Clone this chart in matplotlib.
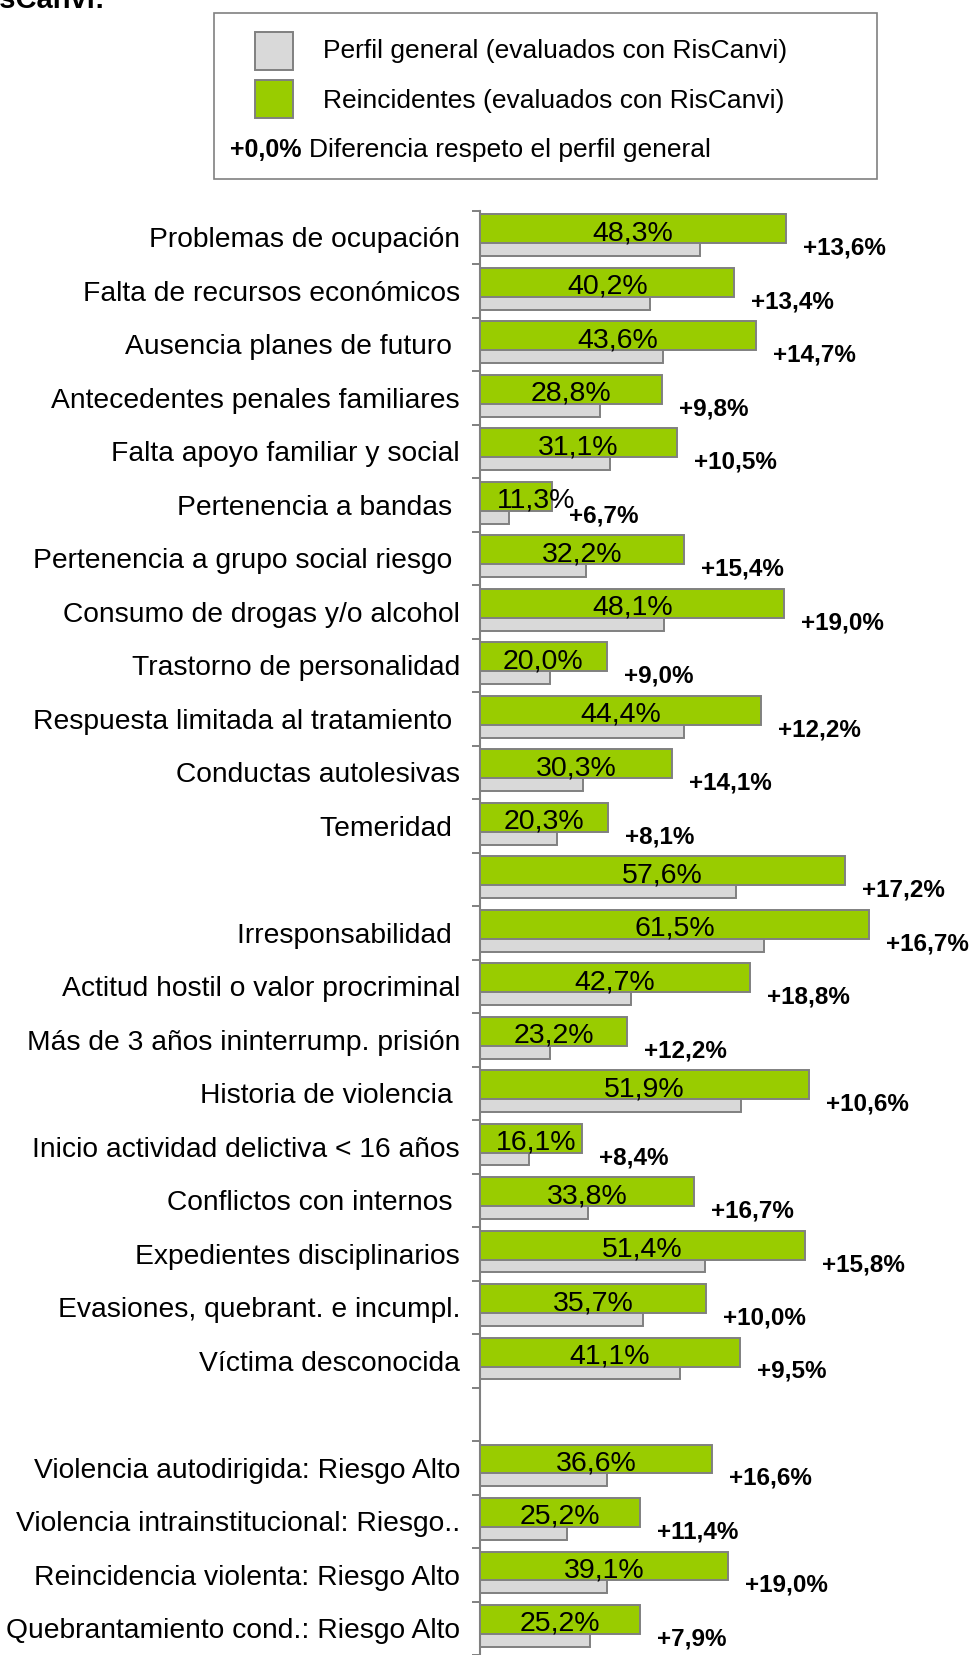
import matplotlib
matplotlib.use("Agg")
import matplotlib.pyplot as plt
from matplotlib.patches import Rectangle
import numpy as np

plt.rcParams['font.family'] = ['Liberation Sans', 'DejaVu Sans']

# datos (None = fila vacía)
categorias = [
    "Problemas de ocupación",
    "Falta de recursos económicos",
    "Ausencia planes de futuro ",
    "Antecedentes penales familiares",
    "Falta apoyo familiar y social",
    "Pertenencia a bandas ",
    "Pertenencia a grupo social riesgo ",
    "Consumo de drogas y/o alcohol",
    "Trastorno de personalidad",
    "Respuesta limitada al tratamiento ",
    "Conductas autolesivas",
    "Temeridad ",
    "",
    "Irresponsabilidad ",
    "Actitud hostil o valor procriminal",
    "Más de 3 años ininterrump. prisión",
    "Historia de violencia ",
    "Inicio actividad delictiva < 16 años",
    "Conflictos con internos ",
    "Expedientes disciplinarios",
    "Evasiones, quebrant. e incumpl.",
    "Víctima desconocida",
    "",
    "Violencia autodirigida: Riesgo Alto",
    "Violencia intrainstitucional: Riesgo..",
    "Reincidencia violenta: Riesgo Alto",
    "Quebrantamiento cond.: Riesgo Alto",
]
reincidentes = [48.3, 40.2, 43.6, 28.8, 31.1, 11.3, 32.2, 48.1, 20.0, 44.4, 30.3, 20.3,
                57.6, 61.5, 42.7, 23.2, 51.9, 16.1, 33.8, 51.4, 35.7, 41.1,
                None, 36.6, 25.2, 39.1, 25.2]
perfil_general = [34.7, 26.8, 28.9, 19.0, 20.6, 4.6, 16.8, 29.1, 11.0, 32.2, 16.2, 12.2,
                  40.4, 44.8, 23.9, 11.0, 41.3, 7.7, 17.1, 35.6, 25.7, 31.6,
                  None, 20.0, 13.8, 20.1, 17.3]
diferencias = [13.6, 13.4, 14.7, 9.8, 10.5, 6.7, 15.4, 19.0, 9.0, 12.2, 14.1, 8.1,
               17.2, 16.7, 18.8, 12.2, 10.6, 8.4, 16.7, 15.8, 10.0, 9.5,
               None, 16.6, 11.4, 19.0, 7.9]

VERDE = '#99CC00'
GRIS = '#D9D9D9'
BORDE = '#808080'

W, H = 972, 1655
fig = plt.figure(figsize=(W / 100, H / 100), dpi=100)


def fx(px):
    return px / W


def fy(py):
    return 1 - py / H


ax_left, ax_top = 480, 210.7
slot = 53.72
px_pct = 6.33
ax = fig.add_axes([fx(ax_left), 0, 1 - fx(ax_left), 1 - ax_top / H])
n = len(categorias)
ax.set_ylim(-0.5 + (H - ax_top) / slot, -0.5)
ax.set_xlim(0, (W - ax_left) / px_pct)

y = np.arange(n)
ok = np.array([v is not None for v in reincidentes])
yy = y[ok]
rein = np.array([v for v in reincidentes if v is not None])
gen = np.array([v for v in perfil_general if v is not None])
dif = np.array([v for v in diferencias if v is not None])

h = 0.54
ax.barh(yy + 0.079, gen, height=h, color=GRIS, edgecolor=BORDE, linewidth=1.4, zorder=2)
ax.barh(yy - 0.163, rein, height=h, color=VERDE, edgecolor=BORDE, linewidth=1.4, zorder=3)


def fmt(v):
    return f"{v:.1f}".replace('.', ',') + '%'


for yi, r, d in zip(yy, rein, dif):
    ax.text(max(r / 2, 8.8), yi - 0.08, fmt(r), ha='center', va='center',
            fontsize=20.5, zorder=4)
    ax.text(r + 17 / px_pct, yi + 0.2, '+' + fmt(d), ha='left', va='center',
            fontsize=17.5, fontweight='bold', zorder=4)

ax.set_yticks(y)
ax.set_yticklabels(categorias, fontsize=20.3)
ax.tick_params(axis='y', which='major', length=0, pad=14.4)
ax.set_yticks(np.arange(n + 1) - 0.5, minor=True)
ax.tick_params(axis='y', which='minor', length=5.8, width=1.4, color=BORDE, direction='out')
ax.set_xticks([])
for s in ['top', 'right', 'bottom']:
    ax.spines[s].set_visible(False)
ax.spines['left'].set_color(BORDE)
ax.spines['left'].set_linewidth(1.5)

# leyenda
fig.add_artist(Rectangle((fx(214), fy(179)), fx(877) - fx(214), (179 - 12.7) / H,
                         transform=fig.transFigure, facecolor='white',
                         edgecolor=BORDE, linewidth=1.2))
fig.add_artist(Rectangle((fx(255), fy(70)), fx(293) - fx(255), 38 / H,
                         transform=fig.transFigure, facecolor=GRIS,
                         edgecolor=BORDE, linewidth=1.4))
fig.add_artist(Rectangle((fx(255), fy(118)), fx(293) - fx(255), 38 / H,
                         transform=fig.transFigure, facecolor=VERDE,
                         edgecolor=BORDE, linewidth=1.4))
fig.text(fx(323), fy(51), "Perfil general (evaluados con RisCanvi)", fontsize=19,
         ha='left', va='center')
fig.text(fx(323), fy(101), "Reincidentes (evaluados con RisCanvi)", fontsize=19,
         ha='left', va='center')
fig.text(fx(230), fy(150), "+0,0%", fontsize=18, fontweight='bold', ha='left', va='center')
fig.text(fx(309), fy(150), "Diferencia respeto el perfil general", fontsize=19,
         ha='left', va='center')

# título cortado arriba
fig.text(fx(104), fy(8), "RisCanvi:", fontsize=21, fontweight='bold',
         ha='right', va='baseline')

fig.savefig("out.png", dpi=100)
